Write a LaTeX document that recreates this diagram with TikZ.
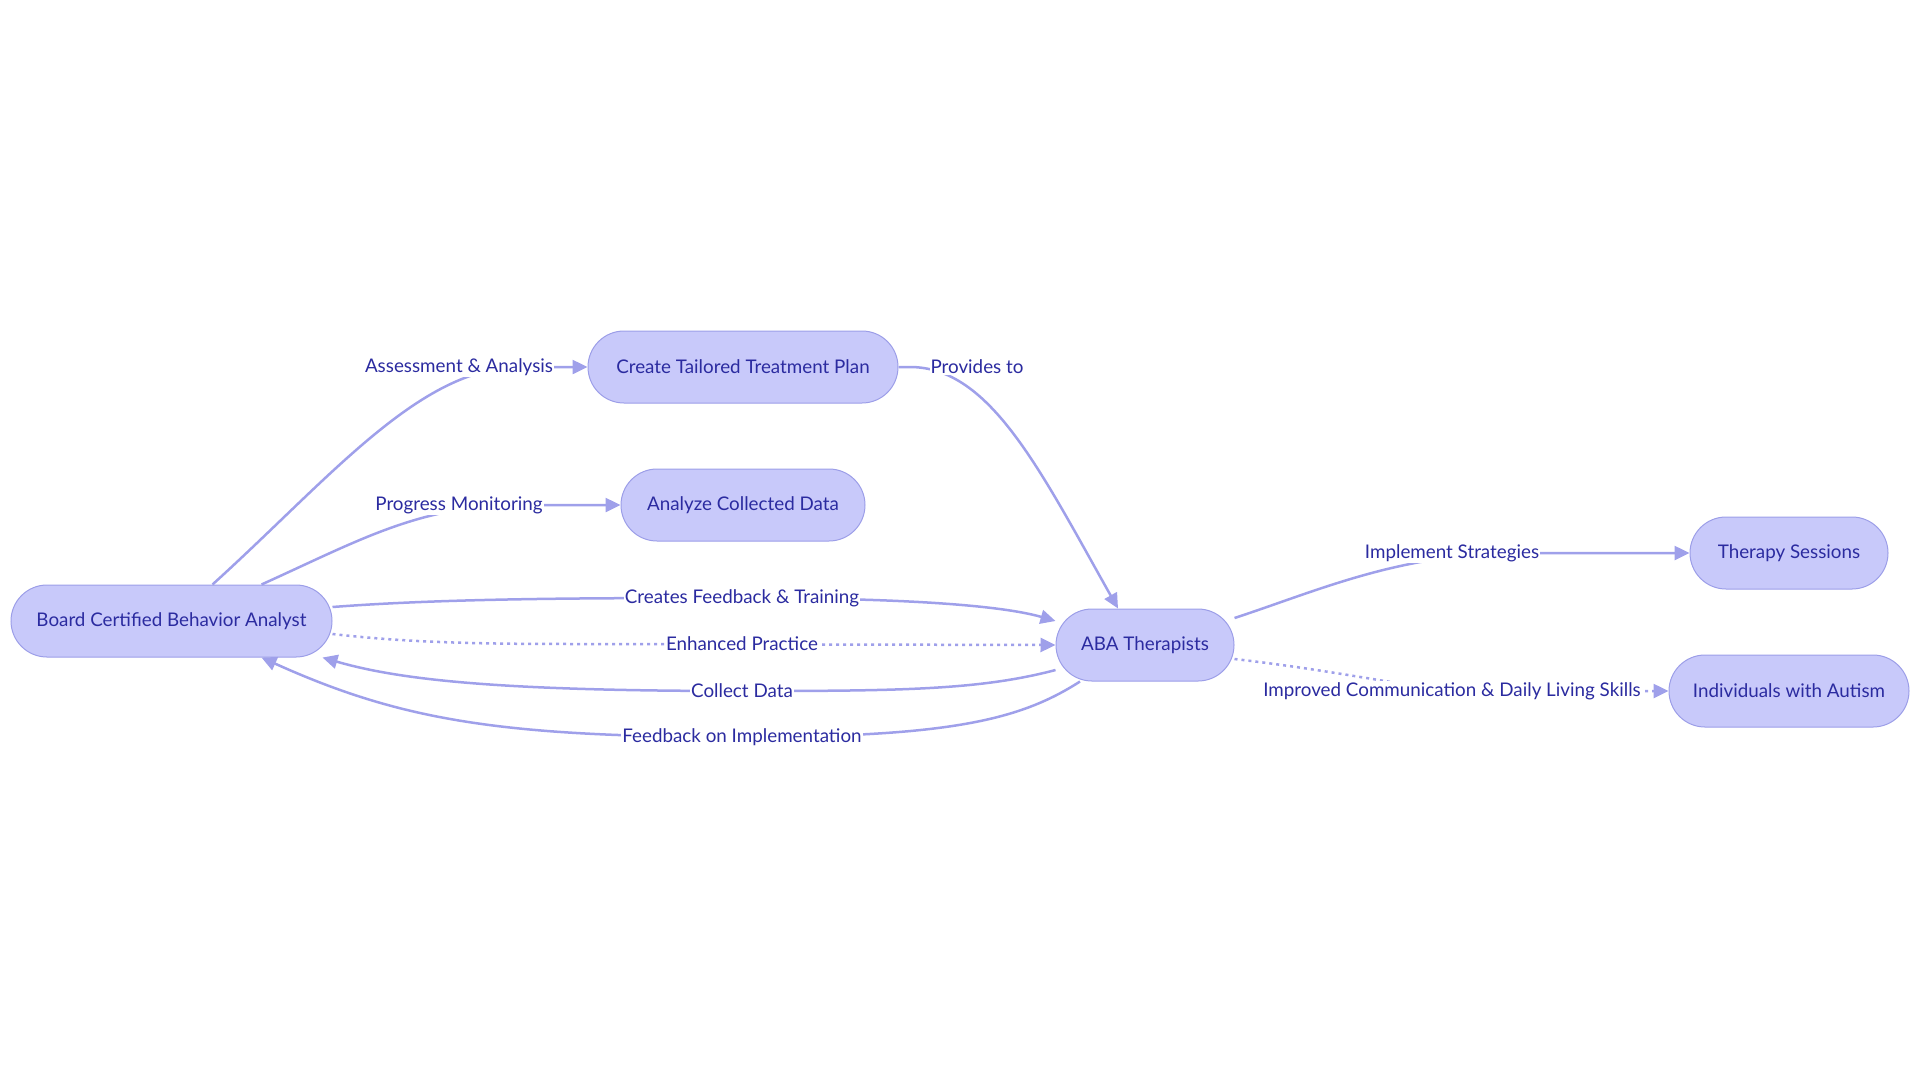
\documentclass[tikz,border=0pt]{standalone}
\usepackage{fontspec}
\setmainfont{Lato}
\usepackage{xcolor}
\definecolor{abfill}{RGB}{200,201,250}
\definecolor{abborder}{RGB}{156,158,232}
\definecolor{abedge}{RGB}{159,160,234}
\definecolor{abtext}{RGB}{43,43,160}
\usetikzlibrary{arrows.meta,positioning,calc}

\begin{document}
\begin{tikzpicture}[x=1pt,y=-1pt,>={Triangle[length=15pt,width=14pt]},
    box/.style={draw=abborder,fill=abfill,line width=1pt,rounded corners=36pt,
        minimum height=72pt,text=abtext,font=\fontsize{18.8}{22}\selectfont},
    edge/.style={->,abedge,line width=2.5pt},
    dotedge/.style={edge,dash pattern=on 3pt off 4pt},
    lbl/.style={fill=white,text=abtext,inner sep=1pt,font=\fontsize{18.8}{22}\selectfont}]
  \useasboundingbox (0,0) rectangle (1920,1080);
  % nodes
  \node[box,minimum width=321pt] (bcba)    at (171.5,621) {Board Certified Behavior Analyst};
  \node[box,minimum width=310pt] (plan)    at (743,367)   {Create Tailored Treatment Plan};
  \node[box,minimum width=244pt] (analyze) at (743,505)   {Analyze Collected Data};
  \node[box,minimum width=178pt] (aba)     at (1145,645)  {ABA Therapists};
  \node[box,minimum width=198pt] (therapy) at (1789,553)  {Therapy Sessions};
  \node[box,minimum width=240pt] (indiv)   at (1789,691)  {Individuals with Autism};
  % connectors
  \draw[edge] ([xshift=41pt]bcba.north) .. controls (330,478) and (420,367) .. (520,367) -- (plan.west);
  \draw[edge] ([xshift=90pt]bcba.north) .. controls (360,540) and (420,505) .. (520,505) -- (analyze.west);
  \draw[edge] (plan.east) -- (910,367) .. controls (990,367) and (1040,470) .. ([xshift=-27pt]aba.north);
  \draw[edge] ([yshift=14pt]bcba.east) .. controls (450,598) and (600,598) .. (742,598)
      .. controls (900,598) and (1000,605) .. ([yshift=24pt]aba.west);
  \draw[dotedge] ([yshift=-13pt]bcba.east) .. controls (420,644) and (500,644) .. (600,644) -- (aba.west);
  \draw[edge] ([yshift=-25pt]aba.west) .. controls (980,690) and (900,691) .. (742,691)
      .. controls (500,691) and (400,680) .. ([xshift=-10pt]bcba.south east);
  \draw[edge] ([xshift=-65pt]aba.south) .. controls (1020,720) and (950,737) .. (742,737)
      .. controls (500,737) and (400,720) .. ([xshift=90pt]bcba.south);
  \draw[edge] ([yshift=27pt]aba.east) .. controls (1320,590) and (1400,553) .. (1520,553) -- (therapy.west);
  \draw[dotedge] ([yshift=-14pt]aba.east) .. controls (1330,670) and (1400,685) .. (1452,691) -- (indiv.west);
  % labels
  \node[lbl] (lassess)   at (459,367)  {Assessment \& Analysis};
  \node[lbl] (lprogress) at (459,505)  {Progress Monitoring};
  \node[lbl] (lprovides) at (977,367)  {Provides to};
  \node[lbl] (lcreates)  at (742,598)  {Creates Feedback \& Training};
  \node[lbl] (lenhanced) at (742,644)  {Enhanced Practice};
  \node[lbl] (lcollect)  at (742,691)  {Collect Data};
  \node[lbl] (lfeedback) at (742,737)  {Feedback on Implementation};
  \node[lbl] (limplement) at (1452,553) {Implement Strategies};
  \node[lbl] (limproved) at (1452,691) {Improved Communication \& Daily Living Skills};
\end{tikzpicture}
\end{document}
